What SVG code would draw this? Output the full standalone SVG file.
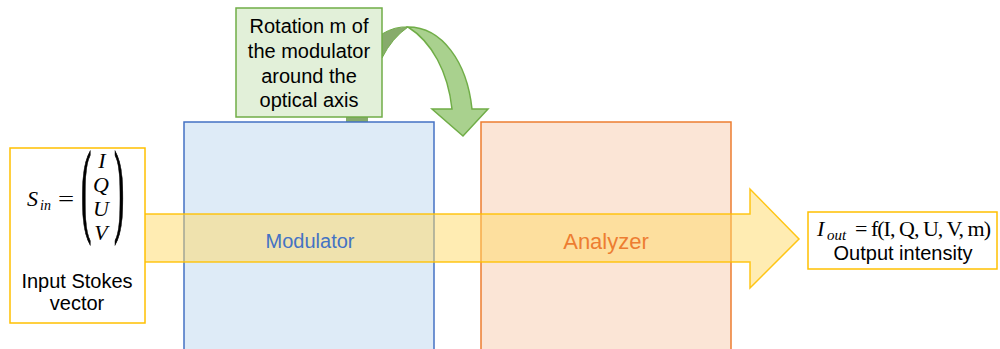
<svg xmlns="http://www.w3.org/2000/svg" width="1000" height="349" viewBox="0 0 1000 349">
<style>
.lbl{font-family:"Liberation Sans",Arial,sans-serif;font-size:20px;fill:#000;text-anchor:middle}
.math{font-family:"Liberation Serif","Times New Roman",serif;fill:#000}
.it{font-style:italic}
</style>
<rect width="1000" height="349" fill="#fff"/>
<g id="curved-arrow">
<rect x="346" y="100" width="22" height="22" fill="#87AB6B"/>
<path d="M382,34 Q395,26 408,27 Q392,38 382,58 Z" fill="#87AB6B" stroke="#70AD47" stroke-width="1"/>
<path d="M408,27 C442,27 467,62 472,109 L488,109 L463,136 L432,109 L452,109 C448,72 432,42 408,27 Z" fill="#A9D18E" stroke="#70AD47" stroke-width="1.5" stroke-linejoin="miter"/>
</g>
<g id="rotation-label">
<rect x="236" y="8" width="146" height="109" fill="#E2F0D9" stroke="#70AD47" stroke-width="1.5"/>
<text class="lbl" x="309" y="33">Rotation m of</text>
<text class="lbl" x="309" y="58">the modulator</text>
<text class="lbl" x="309" y="83">around the</text>
<text class="lbl" x="309" y="107">optical axis</text>
</g>
<g id="modulator">
<rect x="184" y="122" width="250" height="240" fill="#DEEBF7" stroke="#4472C4" stroke-width="1.5"/>
</g>
<g id="analyzer">
<rect x="481" y="122" width="250" height="240" fill="#FBE5D6" stroke="#ED7D31" stroke-width="1.5"/>
</g>
<g id="connectors">
<path d="M140,214 L750,214 L750,189 L799,239 L750,288 L750,262 L140,262 Z" fill="#FFD966" fill-opacity="0.5" stroke="#FFC000" stroke-width="1.5" stroke-opacity="0.9"/>
</g>
<text x="310" y="248" font-family="Liberation Sans,Arial,sans-serif" font-size="20" fill="#4472C4" text-anchor="middle">Modulator</text>
<text x="606" y="249" font-family="Liberation Sans,Arial,sans-serif" font-size="22" fill="#ED7D31" text-anchor="middle">Analyzer</text>
<g id="input">
<rect x="10" y="148" width="135" height="175" fill="#fff" stroke="#FFC000" stroke-width="1.5"/>
<text class="math it" x="27" y="206" font-size="22">S</text>
<text class="math it" x="40" y="210" font-size="14">in</text>
<text class="math" x="58" y="206" font-size="22" transform="translate(58,206) scale(1.3,1) translate(-58,-206)">=</text>
<text class="math" font-size="22" stroke="#000" stroke-width="0.3" transform="translate(81,223) scale(1.4,4.7)">(</text>
<text class="math" font-size="22" stroke="#000" stroke-width="0.3" transform="translate(114,223) scale(1.4,4.7)">)</text>
<text class="math it" x="102" y="168" font-size="22" text-anchor="middle">I</text>
<text class="math it" x="101" y="192" font-size="22" text-anchor="middle">Q</text>
<text class="math it" x="101" y="216" font-size="22" text-anchor="middle">U</text>
<text class="math it" x="101" y="240" font-size="22" text-anchor="middle">V</text>
<text class="lbl" x="77" y="288">Input Stokes</text>
<text class="lbl" x="77" y="310">vector</text>
</g>
<g id="output">
<rect x="808" y="212" width="189" height="57" fill="#fff" stroke="#FFC000" stroke-width="1.5"/>
<text class="math it" x="817" y="236" font-size="22">I</text>
<text class="math it" x="827" y="240" font-size="15">out</text>
<text class="math" x="855" y="236" font-size="22" textLength="136" lengthAdjust="spacing">= f(I, Q, U, V, m)</text>
<text class="lbl" x="903" y="260">Output intensity</text>
</g>
</svg>
